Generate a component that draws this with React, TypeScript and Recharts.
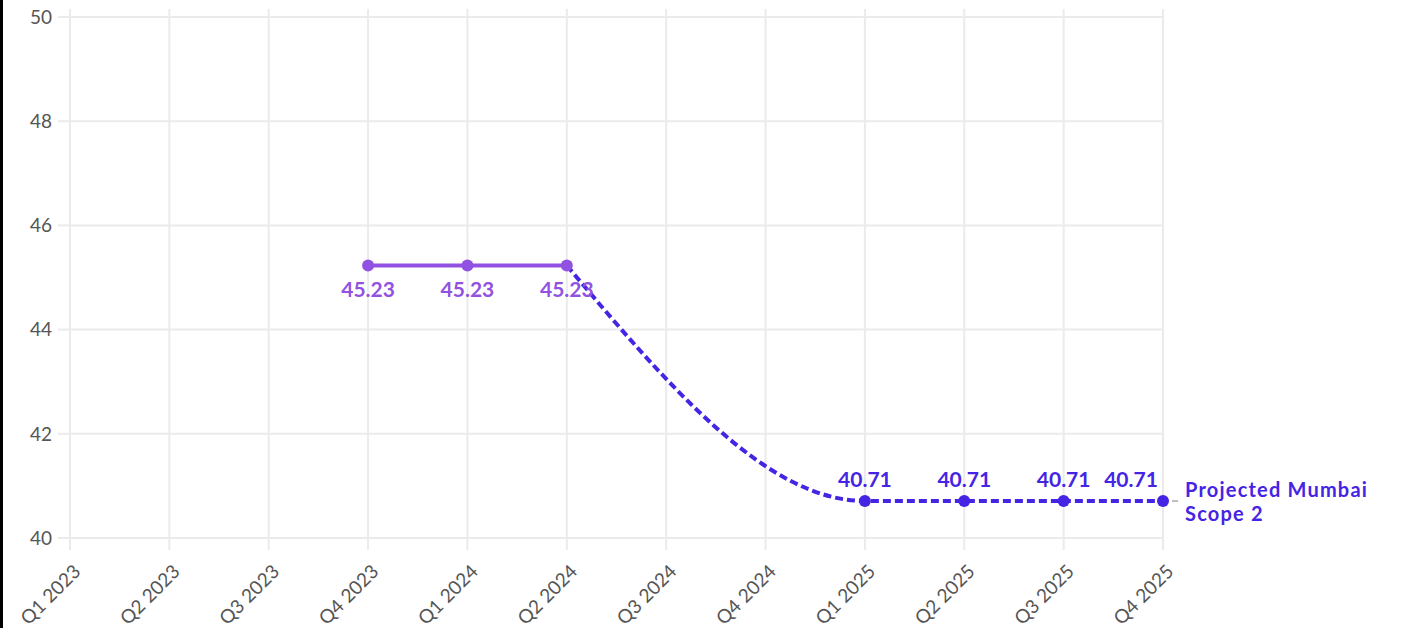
import React from 'react';
import { LineChart, Line, XAxis, YAxis, CartesianGrid, LabelList, ReferenceLine } from 'recharts';

const quarters = [
  'Q1 2023', 'Q2 2023', 'Q3 2023', 'Q4 2023',
  'Q1 2024', 'Q2 2024', 'Q3 2024', 'Q4 2024',
  'Q1 2025', 'Q2 2025', 'Q3 2025', 'Q4 2025',
];
const actualValues = [null, null, null, 45.23, 45.23, 45.23, null, null, null, null, null, null];
const projectedValues = [null, null, null, null, null, 45.23, null, null, 40.71, 40.71, 40.71, 40.71];
const yTicks = [40, 42, 44, 46, 48, 50];
const projectedName = ['Projected Mumbai', 'Scope 2'];

const PURPLE = '#9152e2';
const BLUE = '#4524e4';
const GRID = '#ebebeb';
const FONT = 'Lato, "Noto Sans", sans-serif';

const data = quarters.map((q, i) => ({ q, actual: actualValues[i], projected: projectedValues[i] }));
const firstProjected = projectedValues.findIndex((v) => v !== null);
const lastIdx = quarters.length - 1;

const XTick = (props: any) => {
  const { x, y, payload } = props;
  return (
    <text
      x={x + 1}
      y={y + 10}
      transform={`rotate(-45, ${x + 1}, ${y + 10})`}
      textAnchor="end"
      dominantBaseline="hanging"
      fontSize={19}
      fill="#555"
      fontFamily={FONT}
    >
      {payload.value}
    </text>
  );
};

const ActualLabel = (props: any) => {
  const { x, y, value } = props;
  if (value == null) return null;
  return (
    <text x={x} y={y + 31} textAnchor="middle" fontSize={21} fontWeight={700} fill={PURPLE} fontFamily={FONT}>
      {Number(value).toFixed(2)}
    </text>
  );
};

const ProjectedLabel = (props: any) => {
  const { x, y, value, index } = props;
  if (value == null || index === firstProjected) return null;
  const isLast = index === lastIdx;
  return (
    <g>
      <text x={isLast ? x - 32 : x} y={y - 14} textAnchor="middle" fontSize={21} fontWeight={700} fill={BLUE} fontFamily={FONT}>
        {Number(value).toFixed(2)}
      </text>
      {isLast && (
        <g>
          <line x1={x + 9} x2={x + 15} y1={y} y2={y} stroke="#aaa" strokeWidth={1.5} />
          <text x={x + 22} y={y - 4} fontSize={20} letterSpacing={1.2} fontWeight={700} fill={BLUE} fontFamily={FONT}>
            {projectedName[0]}
          </text>
          <text x={x + 22} y={y + 20} fontSize={20} letterSpacing={1.2} fontWeight={700} fill={BLUE} fontFamily={FONT}>
            {projectedName[1]}
          </text>
        </g>
      )}
    </g>
  );
};

const ProjectedDot = (props: any) => {
  const { cx, cy, index, value } = props;
  if (value == null || index === firstProjected) return <g key={`pd-${index}`} />;
  return <circle key={`pd-${index}`} cx={cx} cy={cy} r={6} fill={BLUE} />;
};

export default function App() {
  return (
    <div style={{ position: 'fixed', left: 0, top: 0, width: 1409, height: 628, background: '#fff' }}>
      <div style={{ position: 'absolute', left: 0, top: 0, width: 3, height: 628, background: '#000' }} />
      <LineChart width={1409} height={628} data={data} margin={{ top: 9, right: 246, bottom: 0, left: 0 }}>
        <CartesianGrid stroke={GRID} strokeWidth={2} horizontal={false} />
        {yTicks.map((t) => (
          <ReferenceLine key={t} y={t} stroke={GRID} strokeWidth={2} />
        ))}
        <XAxis
          dataKey="q"
          scale="point"
          padding={{ left: 0, right: 0 }}
          height={90}
          interval={0}
          axisLine={false}
          tickLine={{ stroke: GRID, strokeWidth: 2 }}
          tickSize={12}
          tick={<XTick />}
        />
        <YAxis
          domain={[40, 50.154]}
          ticks={yTicks}
          width={70}
          axisLine={false}
          tickLine={{ stroke: GRID, strokeWidth: 2 }}
          tickSize={12}
          tickMargin={6}
          tick={{ fontSize: 19, fill: '#555', fontFamily: FONT }}
        />
        <Line
          dataKey="projected"
          type="monotone"
          connectNulls
          stroke={BLUE}
          strokeWidth={4}
          strokeDasharray="8 4"
          dot={<ProjectedDot />}
          activeDot={false}
          isAnimationActive={false}
        >
          <LabelList dataKey="projected" content={<ProjectedLabel />} />
        </Line>
        <Line
          dataKey="actual"
          type="linear"
          stroke={PURPLE}
          strokeWidth={4}
          dot={{ r: 6, fill: PURPLE, stroke: PURPLE, strokeWidth: 0 }}
          activeDot={false}
          isAnimationActive={false}
        >
          <LabelList dataKey="actual" content={<ActualLabel />} />
        </Line>
      </LineChart>
    </div>
  );
}
